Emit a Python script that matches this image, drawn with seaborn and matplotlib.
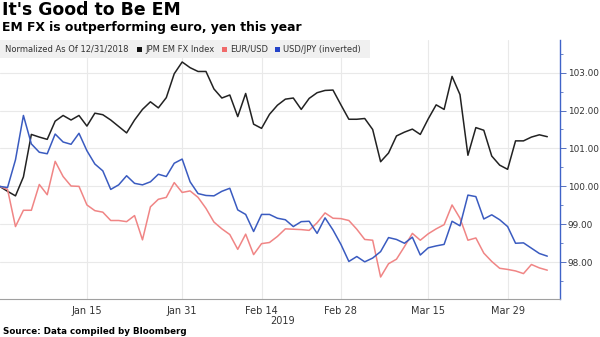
import numpy as np
import pandas as pd
import matplotlib
matplotlib.use("Agg")
import matplotlib.pyplot as plt
from matplotlib.patches import Rectangle
from matplotlib.ticker import FixedLocator, MultipleLocator, FuncFormatter
import seaborn as sns

# Trading days, normalized to 100 on 12/31/2018
dates = pd.bdate_range("2018-12-31", "2019-04-05")

em_fx = [100.00, 99.87, 99.75, 100.25, 101.37, 101.30, 101.24, 101.72, 101.87, 101.75,
         101.87, 101.59, 101.93, 101.89, 101.75, 101.58, 101.41, 101.75, 102.03, 102.23,
         102.07, 102.34, 102.97, 103.28, 103.13, 103.03, 103.03, 102.57, 102.33, 102.41,
         101.84, 102.45, 101.64, 101.53, 101.90, 102.14, 102.30, 102.33, 102.03, 102.32,
         102.47, 102.53, 102.54, 102.15, 101.77, 101.77, 101.79, 101.50, 100.65, 100.88,
         101.33, 101.43, 101.51, 101.37, 101.78, 102.15, 102.03, 102.90, 102.42, 100.82,
         101.55, 101.48, 100.80, 100.56, 100.45, 101.20, 101.20, 101.30, 101.36, 101.31]

eur_usd = [100.00, 99.92, 98.94, 99.37, 99.37, 100.05, 99.78, 100.66, 100.26, 100.01,
           100.00, 99.51, 99.36, 99.32, 99.10, 99.10, 99.07, 99.23, 98.59, 99.46,
           99.66, 99.71, 100.10, 99.84, 99.88, 99.71, 99.42, 99.06, 98.88, 98.73,
           98.34, 98.74, 98.20, 98.49, 98.52, 98.68, 98.88, 98.87, 98.86, 98.84,
           99.04, 99.30, 99.16, 99.15, 99.10, 98.87, 98.60, 98.58, 97.61, 97.96,
           98.08, 98.41, 98.76, 98.58, 98.75, 98.88, 98.99, 99.51, 99.16, 98.58,
           98.64, 98.24, 98.02, 97.84, 97.81, 97.77, 97.70, 97.94, 97.85, 97.79]

usd_jpy_inv = [100.00, 99.97, 100.70, 101.87, 101.12, 100.90, 100.86, 101.38, 101.17, 101.11,
               101.40, 100.94, 100.59, 100.41, 99.92, 100.04, 100.28, 100.08, 100.04, 100.12,
               100.32, 100.26, 100.61, 100.72, 100.12, 99.81, 99.76, 99.75, 99.87, 99.95,
               99.38, 99.26, 98.81, 99.26, 99.26, 99.16, 99.12, 98.94, 99.07, 99.08,
               98.76, 99.17, 98.85, 98.47, 98.02, 98.15, 98.01, 98.11, 98.28, 98.65,
               98.60, 98.50, 98.66, 98.19, 98.38, 98.43, 98.47, 99.08, 98.96, 99.77,
               99.73, 99.14, 99.25, 99.12, 98.94, 98.50, 98.51, 98.37, 98.23, 98.16]

series_names = ["JPM EM FX Index", "EUR/USD", "USD/JPY (inverted)"]
series_colors = ["#222222", "#f08585", "#3a5bc0"]
legend_colors = ["#111111", "#f06a6a", "#2443c8"]

tick_dates = ["2019-01-15", "2019-01-31", "2019-02-14", "2019-02-28", "2019-03-15", "2019-03-29"]
tick_labels = ["Jan 15", "Jan 31", "Feb 14", "Feb 28", "Mar 15", "Mar 29"]
y_ticks = [98, 99, 100, 101, 102, 103]

sns.set_theme(style="white")
plt.rcParams["font.family"] = ["DejaVu Sans"]

wide = pd.DataFrame({"day": np.arange(len(dates)),
                     series_names[0]: em_fx,
                     series_names[1]: eur_usd,
                     series_names[2]: usd_jpy_inv})
long = wide.melt(id_vars="day", var_name="series", value_name="value")

W, H = 600, 337
fig = plt.figure(figsize=(W / 100, H / 100), dpi=100)
fig.patch.set_facecolor("white")
ax = fig.add_axes([0, 1 - 299 / H, 560 / W, 259 / H])

sns.lineplot(data=long, x="day", y="value", hue="series", hue_order=series_names,
             palette=series_colors, linewidth=1.1, legend=False, ax=ax)

ax.set_xlim(0.05, 70.6)
ax.set_ylim(97.03, 103.86)
ax.set_xlabel("")
ax.set_ylabel("")

# x axis: date labels on a trading-day scale
tick_pos = [dates.get_loc(pd.Timestamp(d)) for d in tick_dates]
ax.xaxis.set_major_locator(FixedLocator(tick_pos))
ax.set_xticklabels(tick_labels)
mids = [0.3] + [(a + b) / 2 for a, b in zip(tick_pos[:-1], tick_pos[1:])] + [70.5]
ax.xaxis.set_minor_locator(FixedLocator(mids))
ax.tick_params(axis="x", which="major", length=0, pad=5, labelsize=7, labelcolor="#333333")
ax.tick_params(axis="x", which="minor", length=3, width=0.6, color="#999999", direction="out")

# y axis on the right
ax.yaxis.tick_right()
ax.yaxis.set_major_locator(FixedLocator(y_ticks))
ax.yaxis.set_minor_locator(MultipleLocator(0.5))
ax.yaxis.set_major_formatter(FuncFormatter(lambda v, p: f"{v:.2f}"))
ax.tick_params(axis="y", which="major", length=4, width=0.7, color="#5570c0", pad=1.5,
               labelsize=6.4, labelcolor="#333333", direction="out")
ax.tick_params(axis="y", which="minor", length=2, width=0.6, color="#5570c0", direction="out")

ax.grid(True, which="major", color="#e9e9e9", linewidth=0.8)
ax.set_axisbelow(True)
for side in ["top", "left"]:
    ax.spines[side].set_visible(False)
ax.spines["bottom"].set_color("#a0a0a0")
ax.spines["bottom"].set_linewidth(0.8)
ax.spines["right"].set_color("#3f63c8")
ax.spines["right"].set_linewidth(1.0)

# header band with series key
fig.add_artist(Rectangle((0, 1 - 58 / H), 370 / W, 18 / H, transform=fig.transFigure,
                         facecolor="#f0f0f0", edgecolor="none", zorder=5))
band_y = 1 - 49 / H
fig.text(5 / W, band_y, "Normalized As Of 12/31/2018", fontsize=6.0, color="#333333",
         va="center", ha="left", zorder=6)
key_x = [137, 222, 275]
for x0, name, col in zip(key_x, series_names, legend_colors):
    fig.add_artist(Rectangle((x0 / W, 1 - 52 / H), 5 / W, 5 / H, transform=fig.transFigure,
                             facecolor=col, edgecolor="none", zorder=6))
    fig.text((x0 + 8) / W, band_y, name, fontsize=6.0, color="#333333",
             va="center", ha="left", zorder=6)

fig.text(2 / W, 1 - 1 / H, "It's Good to Be EM", fontsize=12.4, fontweight="bold",
         color="#000000", va="top", ha="left")
fig.text(2 / W, 1 - 21 / H, "EM FX is outperforming euro, yen this year", fontsize=8.9,
         fontweight="bold", color="#000000", va="top", ha="left")
fig.text(283 / W, 1 - 321 / H, "2019", fontsize=7, color="#333333", ha="center", va="center")
fig.text(3 / W, 1 - 332 / H, "Source: Data compiled by Bloomberg", fontsize=6.3,
         fontweight="bold", color="#000000", ha="left", va="center")

fig.savefig("out.png", dpi=100, facecolor="white")
